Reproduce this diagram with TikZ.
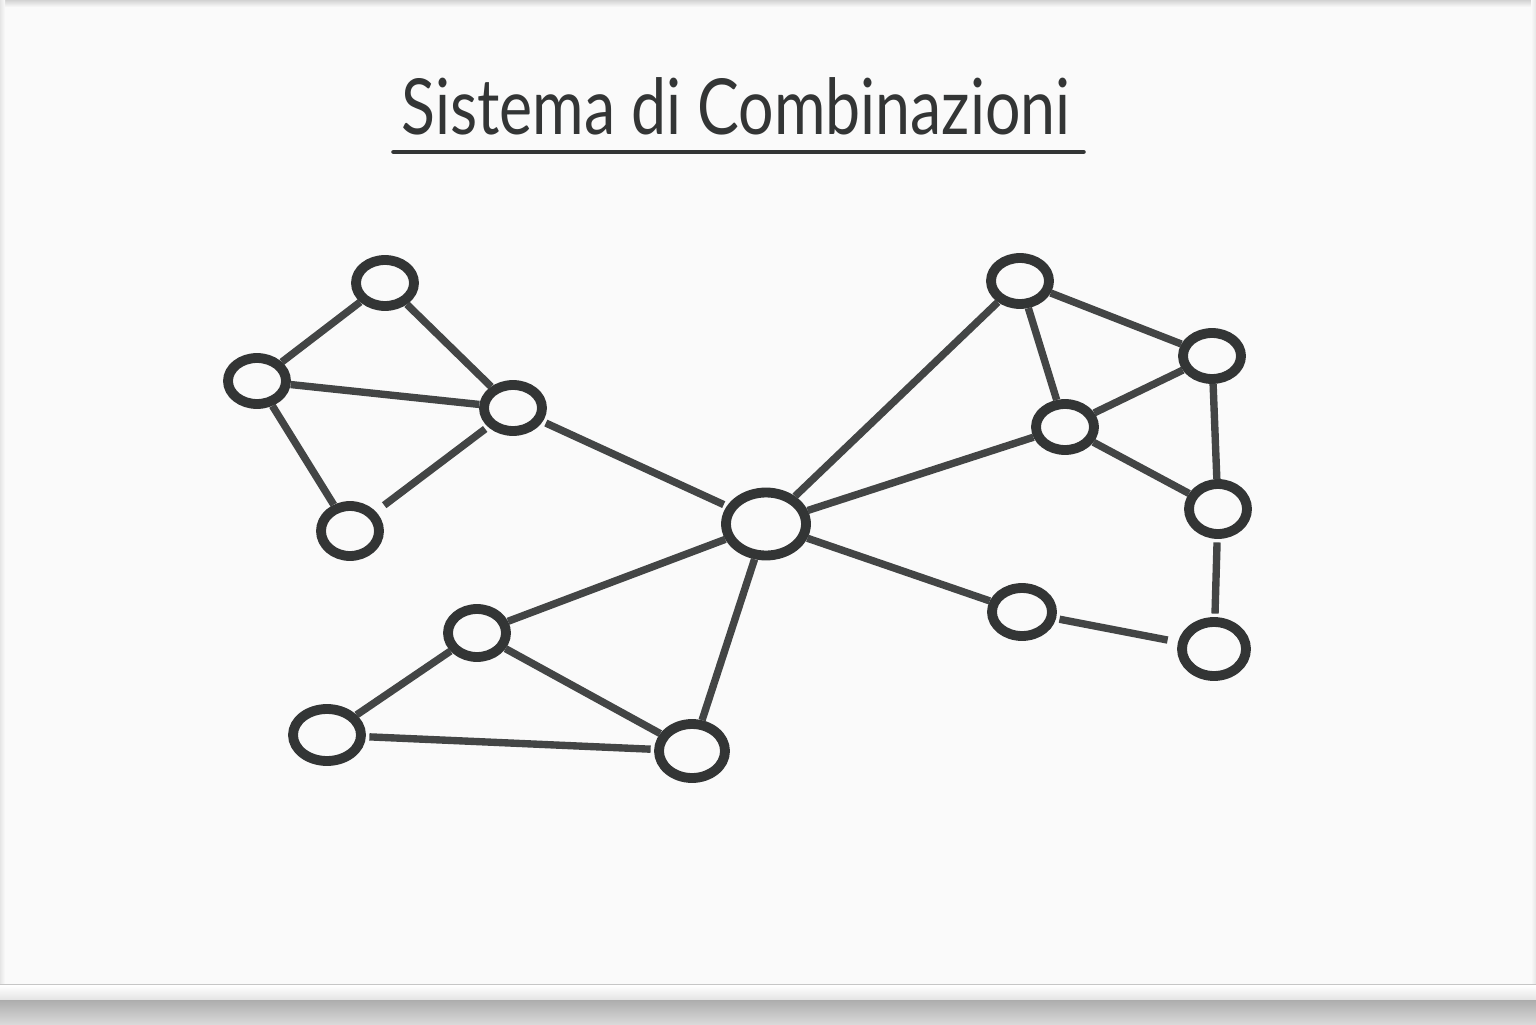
\documentclass[tikz,border=0pt]{standalone}
\usepackage{fontspec}
\setmainfont{Lato}
\usetikzlibrary{shapes.geometric,positioning}

\definecolor{ink}{HTML}{333535}
\definecolor{board}{HTML}{FAFAFA}

\tikzset{
  vertex/.style={ellipse,draw=ink,line width=2.8pt,fill=board,
    minimum width=0.58cm,minimum height=0.46cm,inner sep=0pt},
  hub/.style={vertex,minimum width=0.80cm,minimum height=0.63cm},
  link/.style={draw=ink!92,line width=2.1pt},
}

\begin{document}
\begin{tikzpicture}[shorten >=1pt,shorten <=1pt]
% whiteboard
  \fill[board] (0,0) rectangle (15.36,10.24);
  \shade[top color=gray!35,bottom color=board] (0,10.17) rectangle (15.36,10.24);
  \shade[left color=gray!20,right color=board] (0,0.4) rectangle (0.05,10.24);
  \shade[right color=gray!20,left color=board] (15.31,0.4) rectangle (15.36,10.24);
% tray
  \fill[gray!45] (0,0.385) rectangle (15.36,0.40);
  \shade[top color=white,bottom color=gray!22] (0,0.24) rectangle (15.36,0.385);
  \fill[gray!65] (0,0.225) rectangle (15.36,0.24);
  \shade[top color=gray!62,bottom color=gray!30] (0,0) rectangle (15.36,0.225);

% title
  \node[font=\fontsize{22}{26}\selectfont,text=ink,anchor=base,xscale=0.81] (title) at (7.36,8.89) {Sistema di Combinazioni};
  \draw[ink,line width=1.3pt,line cap=round] (3.90,8.72) -- (10.87,8.72);

% nodes
  \node[vertex]  (a) at (3.85,7.41) {};
  \node[vertex]  (b) at (2.57,6.43) {};
  \node[vertex]  (c) at (5.13,6.16) {};
  \node[vertex]  (d) at (3.50,4.93) [minimum height=0.50cm] {};
  \node[hub]     (e) at (7.66,5.00) {};
  \node[vertex]  (f) at (4.77,3.91) [minimum height=0.48cm] {};
  \node[vertex]  (g) at (3.27,2.89) [minimum width=0.68cm,minimum height=0.52cm] {};
  \node[vertex]  (h) at (6.92,2.73) [minimum width=0.66cm,minimum height=0.54cm] {};
  \node[vertex]  (i) at (10.20,7.43) {};
  \node[vertex]  (j) at (12.12,6.68) {};
  \node[vertex]  (k) at (10.65,5.97) {};
  \node[vertex]  (l) at (12.18,5.15) [minimum height=0.50cm] {};
  \node[vertex]  (m) at (10.22,4.12) [minimum width=0.60cm,minimum height=0.48cm] {};
  \node[vertex]  (n) at (12.14,3.75) [minimum width=0.64cm,minimum height=0.54cm] {};

% left cluster
  \draw[link] (a) -- (b)  (b) -- (c)  (b) -- (d)  (c) -- (e);
  \draw[link,shorten >=3pt] (a) -- (c)  (c) -- (d);
% bottom cluster
  \draw[link] (e) -- (f)  (e) -- (h)  (f) -- (g)  (f) -- (h)  (g) -- (h);
% right cluster
  \draw[link] (e) -- (i)  (e) -- (k)  (e) -- (m)  (i) -- (j)  (i) -- (k)
              (k) -- (j)  (j) -- (l)  (l) -- (n);
  \draw[link,shorten >=3pt] (k) -- (l)  (m) -- (n);
\end{tikzpicture}
\end{document}
